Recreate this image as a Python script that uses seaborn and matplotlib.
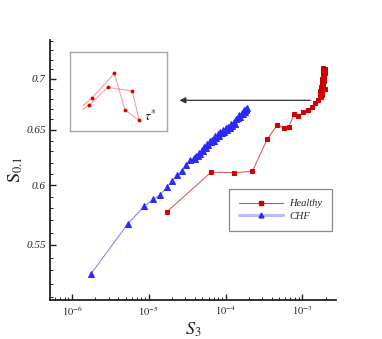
import matplotlib
matplotlib.use("Agg")
import matplotlib.pyplot as plt
import matplotlib.ticker as mticker
from matplotlib.lines import Line2D
import numpy as np
import pandas as pd
import seaborn as sns

# Healthy: S_3 vs S_0.1
healthy_s3 = [1.71e-5, 6.46e-5, 1.30e-4, 2.23e-4, 3.49e-4, 4.71e-4, 5.75e-4, 6.63e-4,
              7.78e-4, 8.85e-4, 1.03e-3, 1.19e-3, 1.32e-3, 1.46e-3, 1.61e-3,
              1.75e-3, 1.68e-3, 1.80e-3, 1.72e-3, 1.85e-3, 1.76e-3, 1.88e-3, 1.80e-3,
              1.92e-3, 1.82e-3, 1.94e-3, 1.84e-3, 1.95e-3, 1.86e-3, 1.97e-3, 1.88e-3,
              1.93e-3, 1.87e-3, 1.95e-3, 1.82e-3]
healthy_s01 = [0.577, 0.6113, 0.611, 0.612, 0.6416, 0.6546, 0.652, 0.6527,
               0.665, 0.663, 0.667, 0.669, 0.672, 0.6756, 0.679,
               0.682, 0.684, 0.686, 0.688, 0.690, 0.692, 0.694, 0.696,
               0.698, 0.700, 0.702, 0.704, 0.706, 0.708, 0.710, 0.711,
               0.704, 0.696, 0.690, 0.684]

# CHF
chf_s3 = [1.75e-6, 5.31e-6, 8.66e-6, 1.15e-5, 1.40e-5, 1.71e-5, 2.0e-5, 2.35e-5,
          2.68e-5, 3.02e-5, 3.43e-5,
          3.88e-5, 4.05e-5, 4.12e-5, 4.38e-5, 4.50e-5, 4.65e-5, 4.93e-5, 5.10e-5,
          5.24e-5, 5.56e-5, 5.70e-5, 5.90e-5, 6.27e-5, 6.40e-5, 6.65e-5, 7.06e-5,
          7.20e-5, 7.50e-5, 7.96e-5, 8.20e-5, 8.45e-5, 8.97e-5, 9.20e-5, 9.53e-5,
          1.01e-4, 1.04e-4, 1.07e-4, 1.14e-4, 1.17e-4, 1.21e-4, 1.29e-4, 1.32e-4,
          1.36e-4, 1.45e-4, 1.48e-4, 1.54e-4, 1.64e-4, 1.68e-4, 1.74e-4, 1.80e-4,
          1.85e-4, 1.90e-4, 1.82e-4]
chf_s01 = [0.527, 0.567, 0.5817, 0.5877, 0.5915, 0.598, 0.6035, 0.6085,
           0.6126, 0.6174, 0.622,
           0.6240, 0.6228, 0.6262, 0.6255, 0.6290, 0.6275, 0.6315, 0.6300,
           0.6340, 0.6330, 0.6370, 0.6360, 0.6400, 0.6385, 0.6410, 0.6400,
           0.6440, 0.6425, 0.6460, 0.6445, 0.6480, 0.6470, 0.6500, 0.6485,
           0.6520, 0.6500, 0.6530, 0.6520, 0.6555, 0.6540, 0.6575, 0.6560,
           0.6600, 0.6610, 0.6640, 0.6625, 0.6665, 0.6650, 0.6690, 0.6675,
           0.6705, 0.6712, 0.6690]

# inset trajectory (zoomed view, arbitrary units)
inset_u = [0.131, 0.230, 0.457, 0.567, 0.714, 0.642, 0.389, 0.196, 0.131]
inset_v = [0.316, 0.422, 0.730, 0.266, 0.135, 0.506, 0.553, 0.329, 0.275]

y_major = [0.55, 0.6, 0.65, 0.7]
y_labels = ["0.55", "0.6", "0.65", "0.7"]

sns.set_style("ticks")
plt.rcParams["font.family"] = ["Liberation Serif", "DejaVu Serif"]
plt.rcParams["mathtext.fontset"] = "stix"

df_h = pd.DataFrame({"s3": healthy_s3, "s01": healthy_s01})
df_c = pd.DataFrame({"s3": chf_s3, "s01": chf_s01})

fig = plt.figure(figsize=(3.82, 3.39), dpi=100)
ax = fig.add_axes([0.1309, 0.1150, 0.7487, 0.767])
ax.set_xscale("log")
ax.set_yscale("log")

sns.lineplot(data=df_c, x="s3", y="s01", sort=False, estimator=None, ax=ax,
             color="#7a7aff", linewidth=0.7, marker="^", markersize=4,
             markerfacecolor="#2a2aff", markeredgecolor="#2a2aff")
sns.lineplot(data=df_h, x="s3", y="s01", sort=False, estimator=None, ax=ax,
             color="#e04848", linewidth=0.7, marker="s", markersize=3.3,
             markerfacecolor="#d00000", markeredgecolor="#d00000")

ax.set_xlim(5.17e-7, 2.74e-3)
ax.set_ylim(0.5077, 0.7408)

ax.xaxis.set_major_locator(mticker.LogLocator(base=10))
ax.xaxis.set_minor_locator(mticker.LogLocator(base=10, subs=np.arange(2, 10)))
ax.xaxis.set_major_formatter(mticker.FuncFormatter(
    lambda v, p: r"$\mathit{10^{%d}}$" % int(round(np.log10(v)))))
ax.xaxis.set_minor_formatter(mticker.NullFormatter())

ax.yaxis.set_major_locator(mticker.FixedLocator(y_major))
ax.yaxis.set_minor_locator(mticker.FixedLocator(np.arange(0.51, 0.745, 0.01)))
ax.yaxis.set_major_formatter(mticker.FixedFormatter(y_labels))
ax.yaxis.set_minor_formatter(mticker.NullFormatter())
for lab in ax.get_yticklabels():
    lab.set_fontstyle("italic")

ax.tick_params(which="both", direction="in", colors="#222222", labelsize=8, pad=3)
ax.tick_params(which="major", length=4.5, width=1.0)
ax.tick_params(which="minor", length=2.3, width=0.7)
ax.tick_params(axis="x", labelsize=7.5)
for s in ["top", "right"]:
    ax.spines[s].set_visible(False)
for s in ["left", "bottom"]:
    ax.spines[s].set_linewidth(1.3)
    ax.spines[s].set_color("#222222")

ax.set_xlabel(r"$S_{\mathit{3}}$", fontsize=13, labelpad=2)
ax.set_ylabel(r"$\mathrm{S}_{\mathit{0.1}}$", fontsize=13, labelpad=1)

# arrow pointing to the inset
ax.annotate("", xy=(0.443, 0.768), xytext=(0.920, 0.768), xycoords="axes fraction",
            arrowprops=dict(arrowstyle="-|>", color="#333333", lw=0.9, mutation_scale=9))

handles = [
    Line2D([], [], color="#e04848", lw=0.8, marker="s", markersize=3.3,
           markerfacecolor="#d00000", markeredgecolor="#d00000"),
    Line2D([], [], color="#b8bcff", lw=2.2, marker="^", markersize=3.5,
           markerfacecolor="#2a2aff", markeredgecolor="#2a2aff"),
]
leg = fig.legend(handles, ["Healthy", "CHF"], loc="upper left",
                 bbox_to_anchor=(229.3 / 382, 1 - 189.3 / 339),
                 prop={"style": "italic", "size": 7.5}, handlelength=4.2,
                 handletextpad=0.6, labelspacing=0.3, borderpad=0.95,
                 borderaxespad=0, fancybox=False, framealpha=1)
leg.get_frame().set_edgecolor("#888888")
leg.get_frame().set_linewidth(0.9)

# inset
axi = fig.add_axes([70 / 382, 1 - 131 / 339, 97 / 382, 79 / 339])
sns.lineplot(x=inset_u, y=inset_v, sort=False, estimator=None, ax=axi,
             color="#f4a0a0", linewidth=0.8)
axi.plot(inset_u[1:-1], inset_v[1:-1], linestyle="none", marker="o",
         markersize=1.8, color="#e00000")
axi.text(0.763, 0.19, r"$\tau^{*}$", fontsize=10, va="center", ha="left")
axi.set_xlim(0, 1)
axi.set_ylim(0, 1)
axi.set_xticks([])
axi.set_yticks([])
for s in axi.spines.values():
    s.set_color("#a8a8a8")
    s.set_linewidth(1.0)

fig.savefig("out.png", dpi=100)
